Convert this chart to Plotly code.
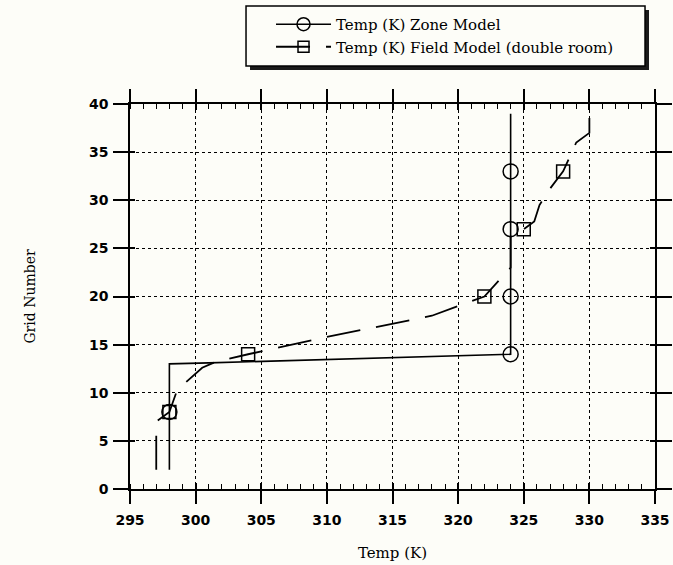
import plotly.graph_objects as go

# ---- data ----
zone_temp = [298, 298, 298, 301, 312, 324, 324, 324, 324, 324]
zone_grid = [2, 8, 13, 13.1, 13.5, 14, 20, 27, 33, 39]
zone_mark_idx = [1, 5, 6, 7, 8]

field_temp = [297, 297, 298, 298.6, 300.5, 301.5, 304, 310, 318, 322, 324, 324, 325,
              325.8, 326.2, 327, 328, 329, 330, 330]
field_grid = [2, 7, 8, 10.3, 12.6, 13.2, 14, 15.8, 18, 20, 23, 26.5, 27,
              27.8, 29.5, 31.2, 33, 36, 37, 40]
field_mark_idx = [2, 6, 9, 12, 16]

x_ticks = [295, 300, 305, 310, 315, 320, 325, 330, 335]
y_ticks = [0, 5, 10, 15, 20, 25, 30, 35, 40]

zone_name = "Temp (K) Zone Model"
field_name = "Temp (K) Field Model (double room)"

BG = "#fdfdf8"
SERIF = "DejaVu Serif"
TICKFONT = dict(family="DejaVu Sans", size=14, color="black", weight="bold")

fig = go.Figure()

# lines
fig.add_trace(go.Scatter(x=zone_temp, y=zone_grid, mode="lines",
                         line=dict(color="black", width=1.6), showlegend=False))
fig.add_trace(go.Scatter(x=field_temp, y=field_grid, mode="lines",
                         line=dict(color="black", width=1.8, dash="34px,16px"),
                         showlegend=False))
# markers
fig.add_trace(go.Scatter(x=[zone_temp[i] for i in zone_mark_idx],
                         y=[zone_grid[i] for i in zone_mark_idx], mode="markers",
                         marker=dict(symbol="circle-open", size=15, color="black",
                                     line=dict(width=1.5, color="black")),
                         showlegend=False))
fig.add_trace(go.Scatter(x=[field_temp[i] for i in field_mark_idx],
                         y=[field_grid[i] for i in field_mark_idx], mode="markers",
                         marker=dict(symbol="square-open", size=13, color="black",
                                     line=dict(width=1.5, color="black")),
                         showlegend=False))
# legend entries
fig.add_trace(go.Scatter(x=[None], y=[None], mode="lines+markers", name=zone_name,
                         line=dict(color="black", width=1.6),
                         marker=dict(symbol="circle-open", size=13, color="black",
                                     line=dict(width=1.5, color="black"))))
fig.add_trace(go.Scatter(x=[None], y=[None], mode="lines+markers", name=field_name,
                         line=dict(color="black", width=1.8, dash="34px,16px"),
                         marker=dict(symbol="square-open", size=11, color="black",
                                     line=dict(width=1.5, color="black"))))
# helper trace for inner halves of the crossing ticks
fig.add_trace(go.Scatter(x=[None], y=[None], xaxis="x2", yaxis="y2", showlegend=False,
                         hoverinfo="skip"))

axis_common = dict(showline=True, linecolor="black", linewidth=1.6, mirror="ticks",
                   ticks="outside", tickcolor="black", tickwidth=1.5,
                   showgrid=True, gridcolor="black", gridwidth=1.4, griddash="dot",
                   zeroline=False, tickfont=TICKFONT)

fig.update_layout(
    width=673, height=565,
    margin=dict(l=130, r=18, t=104, b=76, autoexpand=False),
    paper_bgcolor=BG, plot_bgcolor=BG,
    xaxis=dict(range=[295, 335], tickmode="array", tickvals=x_ticks,
               ticklen=13, ticklabelstandoff=4,
               minor=dict(ticks="inside", dtick=1, tick0=295, ticklen=5,
                          tickwidth=1.2, tickcolor="black", showgrid=False),
               title=dict(text="Temp (K)", font=dict(family=SERIF, size=15, color="black"),
                          standoff=21),
               **axis_common),
    yaxis=dict(range=[0, 40], tickmode="array", tickvals=y_ticks,
               ticklen=15, ticklabelstandoff=2,
               title=dict(text="Grid Number", font=dict(family=SERIF, size=14, color="black"),
                          standoff=50),
               **axis_common),
    xaxis2=dict(overlaying="x", anchor="y2", range=[295, 335], tickmode="array",
                tickvals=x_ticks, ticks="inside", ticklen=6, tickwidth=1.5,
                tickcolor="black", mirror="ticks", showline=False, showgrid=False,
                showticklabels=False, zeroline=False),
    yaxis2=dict(overlaying="y", anchor="x2", range=[0, 40], tickmode="array",
                tickvals=y_ticks, ticks="inside", ticklen=5, tickwidth=1.5,
                tickcolor="black", mirror="ticks", showline=False, showgrid=False,
                showticklabels=False, zeroline=False),
    legend=dict(x=0.2686, y=1.2494, xanchor="left", yanchor="top",
                bgcolor="rgba(0,0,0,0)", borderwidth=0, itemwidth=55,
                tracegroupgap=0,
                font=dict(family=SERIF, size=15, color="black")),
    shapes=[
        dict(type="rect", xref="paper", yref="paper", x0=0.2286, x1=0.9886,
             y0=1.0883, y1=1.2442, fillcolor="#1a1a1a", line=dict(width=0)),
        dict(type="rect", xref="paper", yref="paper", x0=0.2210, x1=0.981,
             y0=1.0987, y1=1.2545, fillcolor=BG, line=dict(color="black", width=1.5)),
    ],
    showlegend=True,
)

fig.write_html(
    "out.html",
    config={"displayModeBar": False},
    post_script="document.body.style.margin='0';document.body.style.overflow='hidden';"
                "document.body.style.background='" + BG + "';",
)
